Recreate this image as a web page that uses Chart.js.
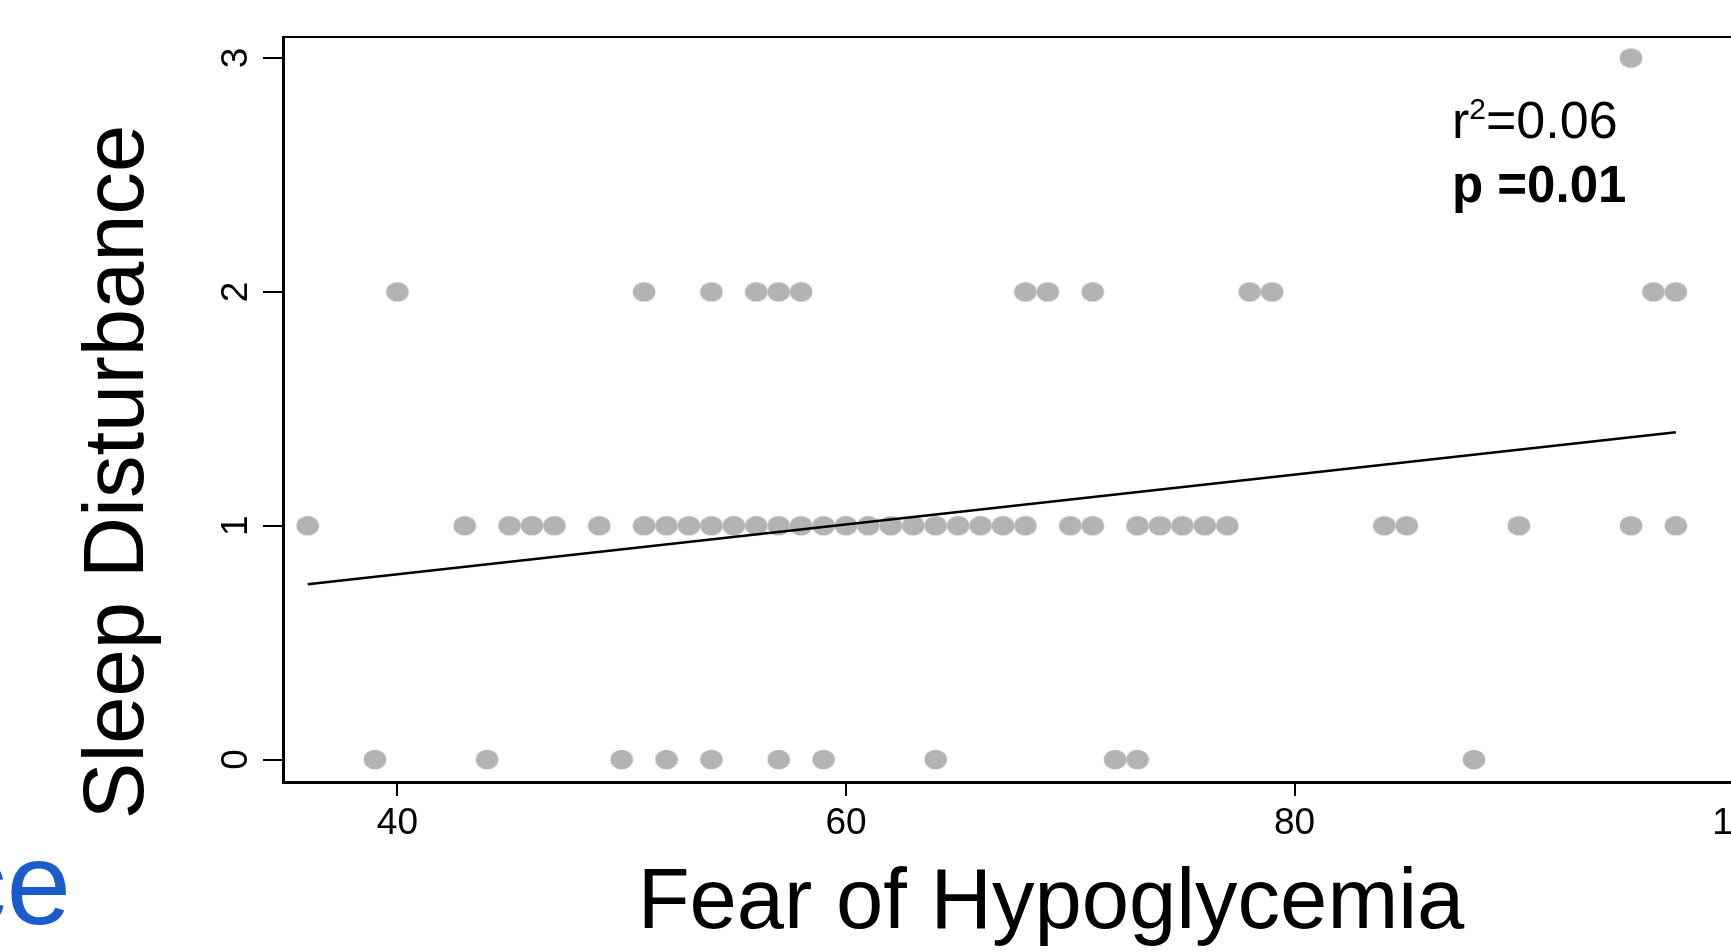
<!DOCTYPE html>
<html>
<head>
<meta charset="utf-8">
<title>Sleep Disturbance vs Fear of Hypoglycemia</title>
<script src="https://cdn.jsdelivr.net/npm/chart.js@4.4.1/dist/chart.umd.min.js"></script>
<style>
  html, body { margin: 0; padding: 0; background: #fff; overflow: hidden; }
  #wrap { width: 1731px; height: 952px; overflow: hidden; position: relative; }
  canvas { display: block; }
</style>
</head>
<body>
<div id="wrap"><canvas id="plot" width="1780" height="952"></canvas></div>
<script>
// Fear of Hypoglycemia scores, grouped by sleep disturbance score
const sleepLevels = [0, 1, 2, 3];
const fearAtSleep0 = [39, 44, 50, 52, 54, 57, 59, 64, 72, 73, 88];
const fearAtSleep1 = [36, 43, 45, 46, 47, 49, 51, 52, 53, 54, 55, 56, 57, 58, 59, 60, 61, 62, 63, 64,
                      65, 66, 67, 68, 70, 71, 73, 74, 75, 76, 77, 84, 85, 90, 95, 97];
const fearAtSleep2 = [40, 51, 54, 56, 57, 58, 68, 69, 71, 78, 79, 96, 97];
const fearAtSleep3 = [95];

// fitted regression line end points
const fitX = [36, 97];
const fitY = [0.75, 1.40];

const xTicks = [40, 60, 80, 100];
const yTicks = [0, 1, 2, 3];

const xTitle = 'Fear of Hypoglycemia';
const yTitle = 'Sleep Disturbance';
const statR2 = '0.06';
const statP = '0.01';

const FONT = "'Liberation Sans', Arial, Helvetica, sans-serif";

// build the scatter points
const groups = [fearAtSleep0, fearAtSleep1, fearAtSleep2, fearAtSleep3];
const points = [];
groups.forEach((xs, i) => {
    xs.forEach(x => points.push({ x: x, y: sleepLevels[i] }));
});
const fitPoints = fitX.map((x, i) => ({ x: x, y: fitY[i] }));

// slightly wide grey dot, as in the original
const dot = document.createElement('canvas');
dot.width = 24;
dot.height = 21;
const dctx = dot.getContext('2d');
dctx.fillStyle = '#b3b3b3';
dctx.beginPath();
dctx.ellipse(12, 10.5, 11.3, 9.8, 0, 0, Math.PI * 2);
dctx.fill();

// extra drawing: top frame line, rotated y labels, titles and stats
const extras = {
    id: 'extras',
    afterDraw(chart) {
        const ctx = chart.ctx;
        const area = chart.chartArea;
        const yScale = chart.scales.y;

        ctx.save();
        ctx.strokeStyle = '#000';
        ctx.lineWidth = 2;
        ctx.beginPath();
        ctx.moveTo(area.left, area.top);
        ctx.lineTo(area.right, area.top);
        ctx.stroke();

        ctx.fillStyle = '#000';
        ctx.textAlign = 'center';
        ctx.textBaseline = 'alphabetic';

        // y tick labels, rotated like base R graphics
        ctx.font = '37px ' + FONT;
        yTicks.forEach(v => {
            const py = yScale.getPixelForValue(v);
            ctx.save();
            ctx.translate(247, py);
            ctx.rotate(-Math.PI / 2);
            ctx.fillText(String(v), 0, 0);
            ctx.restore();
        });

        // axis titles
        ctx.font = '85px ' + FONT;
        ctx.fillText(xTitle, 1051, 928);
        ctx.save();
        ctx.translate(143, 472);
        ctx.rotate(-Math.PI / 2);
        ctx.fillText(yTitle, 0, 0);
        ctx.restore();

        // statistics
        ctx.textAlign = 'left';
        let x = 1452;
        ctx.font = '52px ' + FONT;
        ctx.fillText('r', x, 138);
        x += ctx.measureText('r').width;
        ctx.font = '30px ' + FONT;
        ctx.fillText('2', x, 119);
        x += ctx.measureText('2').width;
        ctx.font = '52px ' + FONT;
        ctx.fillText('=' + statR2, x, 138);
        ctx.font = 'bold 51px ' + FONT;
        ctx.fillText('p =' + statP, 1452, 202);

        // cut-off word from the neighbouring panel
        ctx.fillStyle = '#1a5ccc';
        ctx.textAlign = 'right';
        ctx.font = '116px ' + FONT;
        ctx.fillText('ce', 71, 924);
        ctx.restore();
    }
};

const ctx = document.getElementById('plot').getContext('2d');
new Chart(ctx, {
    type: 'scatter',
    data: {
        datasets: [
            {
                label: 'fit',
                data: fitPoints,
                showLine: true,
                borderColor: '#000',
                borderWidth: 2.6,
                pointRadius: 0,
                order: 0
            },
            {
                label: 'subjects',
                data: points,
                pointStyle: dot,
                pointRadius: 10,
                backgroundColor: '#b3b3b3',
                borderWidth: 0,
                order: 1
            }
        ]
    },
    plugins: [extras],
    options: {
        responsive: false,
        animation: false,
        events: [],
        layout: { autoPadding: false, padding: { top: 37, left: 0, right: 0, bottom: 0 } },
        plugins: {
            legend: { display: false },
            tooltip: { enabled: false },
            title: { display: false }
        },
        scales: {
            x: {
                type: 'linear',
                min: 34.9,
                max: 101.55,
                afterFit(scale) { scale.height = 170; },
                afterBuildTicks(scale) { scale.ticks = xTicks.map(v => ({ value: v })); },
                ticks: {
                    includeBounds: false,
                    color: '#000',
                    padding: 6,
                    maxRotation: 0,
                    autoSkip: false,
                    font: { family: FONT, size: 37 }
                },
                grid: { drawOnChartArea: false, drawTicks: true, tickLength: 14, color: '#000', lineWidth: 2 },
                border: { display: true, color: '#000', width: 3 }
            },
            y: {
                type: 'linear',
                min: -0.096,
                max: 3.09,
                afterFit(scale) { scale.width = 283; },
                afterBuildTicks(scale) { scale.ticks = yTicks.map(v => ({ value: v })); },
                ticks: { display: false, includeBounds: false },
                grid: { drawOnChartArea: false, drawTicks: true, tickLength: 20, color: '#000', lineWidth: 2 },
                border: { display: true, color: '#000', width: 3 }
            }
        }
    }
});
</script>
</body>
</html>
